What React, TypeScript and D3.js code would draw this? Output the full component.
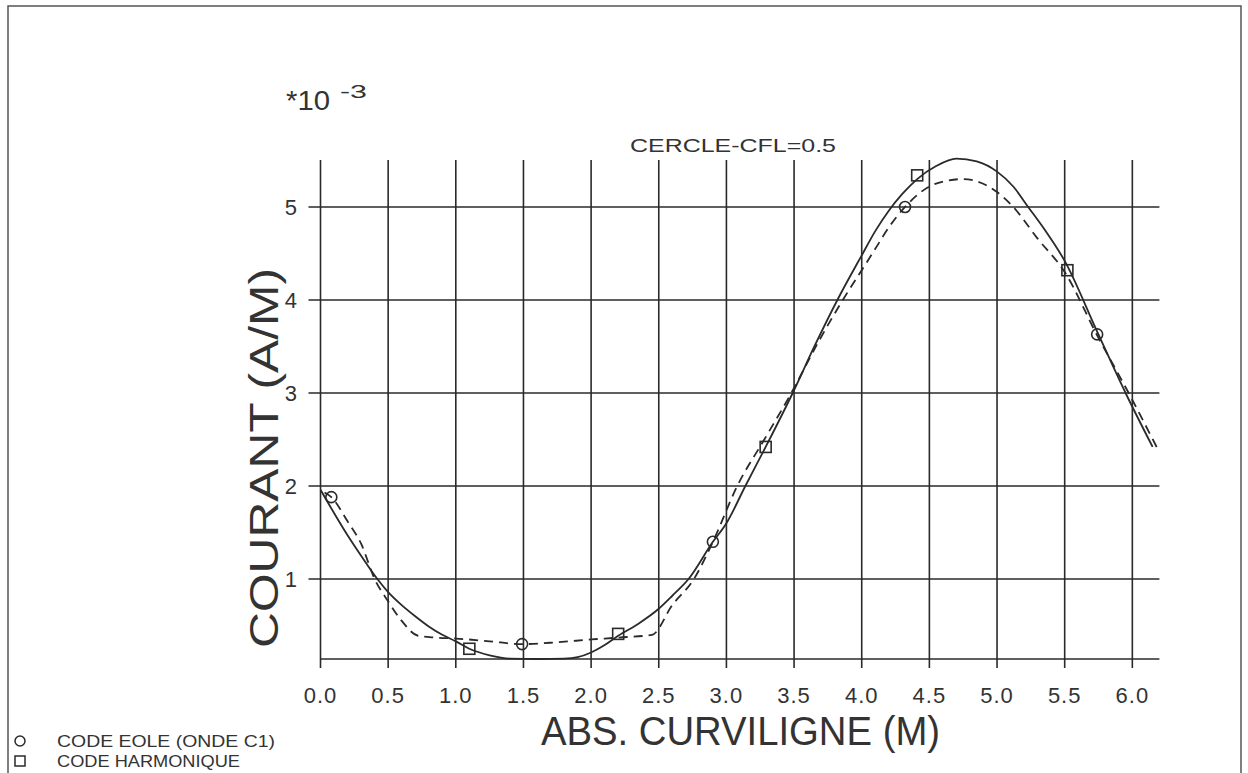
import * as d3 from 'd3'

// abscisse curviligne (M) / courant (A/M, *1e-3)
const harmX = [0.0, 0.1, 0.2, 0.3, 0.42, 0.5, 0.6, 0.7, 0.8, 0.9, 1.0, 1.1, 1.25, 1.4, 1.6, 1.8, 1.9, 2.0, 2.1, 2.2, 2.35, 2.5, 2.6, 2.72, 2.9, 3.0, 3.14, 3.29, 3.49, 3.65, 3.82, 4.0, 4.1, 4.2, 4.3, 4.41, 4.55, 4.7, 4.85, 5.0, 5.12, 5.23, 5.35, 5.5, 5.74, 5.95, 6.15]
const harmY = [1.96, 1.71, 1.47, 1.25, 1.0, 0.86, 0.72, 0.6, 0.49, 0.4, 0.33, 0.25, 0.18, 0.145, 0.14, 0.145, 0.16, 0.21, 0.29, 0.39, 0.52, 0.68, 0.82, 1.0, 1.4, 1.6, 2.0, 2.42, 3.0, 3.5, 4.0, 4.48, 4.74, 4.96, 5.14, 5.3, 5.44, 5.52, 5.49, 5.38, 5.22, 5.0, 4.76, 4.42, 3.66, 3.0, 2.42]

const eoleX = [0.03, 0.08, 0.2, 0.3, 0.4, 0.5, 0.6, 0.72, 0.85, 1.0, 1.25, 1.49, 1.75, 2.0, 2.2, 2.45, 2.6, 2.76, 2.9, 3.08, 3.28, 3.48, 3.68, 3.86, 4.0, 4.1, 4.2, 4.32, 4.5, 4.62, 4.75, 4.88, 5.0, 5.12, 5.3, 5.5, 5.74, 5.98, 6.19]
const eoleY = [1.93, 1.88, 1.62, 1.38, 1.0, 0.76, 0.55, 0.39, 0.37, 0.36, 0.33, 0.3, 0.32, 0.35, 0.37, 0.4, 0.72, 1.0, 1.4, 2.0, 2.5, 3.0, 3.55, 4.0, 4.32, 4.55, 4.78, 5.0, 5.22, 5.28, 5.3, 5.26, 5.16, 5.0, 4.66, 4.3, 3.62, 2.98, 2.39]

const eoleMarkX = [0.08, 1.49, 2.9, 4.32, 5.74]
const eoleMarkY = [1.88, 0.3, 1.4, 5.0, 3.63]
const harmMarkX = [1.1, 2.2, 3.29, 4.41, 5.52]
const harmMarkY = [0.25, 0.41, 2.42, 5.34, 4.32]

const xTicks = [0, 0.5, 1, 1.5, 2, 2.5, 3, 3.5, 4, 4.5, 5, 5.5, 6]
const yTicks = [1, 2, 3, 4, 5]

const W = 1248
const H = 773
const ink = '#2a2a2a'
const font = '"Liberation Sans", Arial, sans-serif'

export default function App() {
  const x = d3.scaleLinear().domain([0, 6.2]).range([320.5, 1159.4])
  const y = d3.scaleLinear().domain([0.14, 5.505]).range([659, 160])

  const line = d3.line<[number, number]>()
    .x(d => x(d[0]))
    .y(d => y(d[1]))
    .curve(d3.curveMonotoneX)

  const harm = harmX.map((v, i) => [v, harmY[i]] as [number, number])
  const eole = eoleX.map((v, i) => [v, eoleY[i]] as [number, number])

  const top = y(5.505)
  const bottom = y(0.14)
  const left = x(0)
  const right = x(6.2)

  return (
    <svg width={W} height={H} style={{ position: 'absolute', left: 0, top: 0, background: '#fff' }}>
      {/* frame */}
      <path d={`M8,${H} V6 H1241 V${H}`} fill="none" stroke="#555" strokeWidth={1.5} />

      {/* grid */}
      <g stroke={ink} strokeWidth={1.6}>
        {xTicks.map(t => (
          <line key={'v' + t} x1={x(t)} x2={x(t)} y1={top} y2={bottom + 9} />
        ))}
        {yTicks.map(t => (
          <line key={'h' + t} x1={left - 12} x2={right} y1={y(t)} y2={y(t)} />
        ))}
        <line x1={left} x2={right} y1={bottom} y2={bottom} />
      </g>

      {/* curves */}
      <path d={line(harm) || ''} fill="none" stroke={ink} strokeWidth={1.8} />
      <path d={line(eole) || ''} fill="none" stroke={ink} strokeWidth={1.8} strokeDasharray="9,6" />

      {/* markers */}
      {eoleMarkX.map((v, i) => (
        <circle key={'c' + i} cx={x(v)} cy={y(eoleMarkY[i])} r={5.5} fill="none" stroke={ink} strokeWidth={1.6} />
      ))}
      {harmMarkX.map((v, i) => (
        <rect key={'s' + i} x={x(v) - 5.5} y={y(harmMarkY[i]) - 5.5} width={11} height={11} fill="none" stroke={ink} strokeWidth={1.6} />
      ))}

      {/* tick labels */}
      <g fontFamily={font} fill="#333">
        {xTicks.map(t => (
          <text key={'xl' + t} x={x(t)} y={703} fontSize={22} textAnchor="middle" letterSpacing={1}>
            {d3.format('.1f')(t)}
          </text>
        ))}
        {yTicks.map(t => (
          <text key={'yl' + t} x={297} y={y(t) + 8} fontSize={22} textAnchor="end">
            {t}
          </text>
        ))}

        <text x={286} y={110} fontSize={27} textLength={44} lengthAdjust="spacingAndGlyphs">*10</text>
        <text x={340} y={98} fontSize={18} textLength={27} lengthAdjust="spacingAndGlyphs">-3</text>

        <text x={630} y={152} fontSize={19} textLength={206} lengthAdjust="spacingAndGlyphs">CERCLE-CFL=0.5</text>

        <text x={541} y={745} fontSize={40} textLength={399} lengthAdjust="spacingAndGlyphs">ABS. CURVILIGNE (M)</text>
        <text transform="translate(278,458) rotate(-90)" fontSize={40} textAnchor="middle" textLength={380} lengthAdjust="spacingAndGlyphs">COURANT (A/M)</text>

        {/* legend */}
        <circle cx={20} cy={741} r={5} fill="none" stroke={ink} strokeWidth={1.5} />
        <text x={57} y={747} fontSize={16} textLength={218} lengthAdjust="spacingAndGlyphs">CODE EOLE (ONDE C1)</text>
        <rect x={15} y={756} width={10} height={10} fill="none" stroke={ink} strokeWidth={1.5} />
        <text x={57} y={767} fontSize={16} textLength={183} lengthAdjust="spacingAndGlyphs">CODE HARMONIQUE</text>
      </g>
    </svg>
  )
}
